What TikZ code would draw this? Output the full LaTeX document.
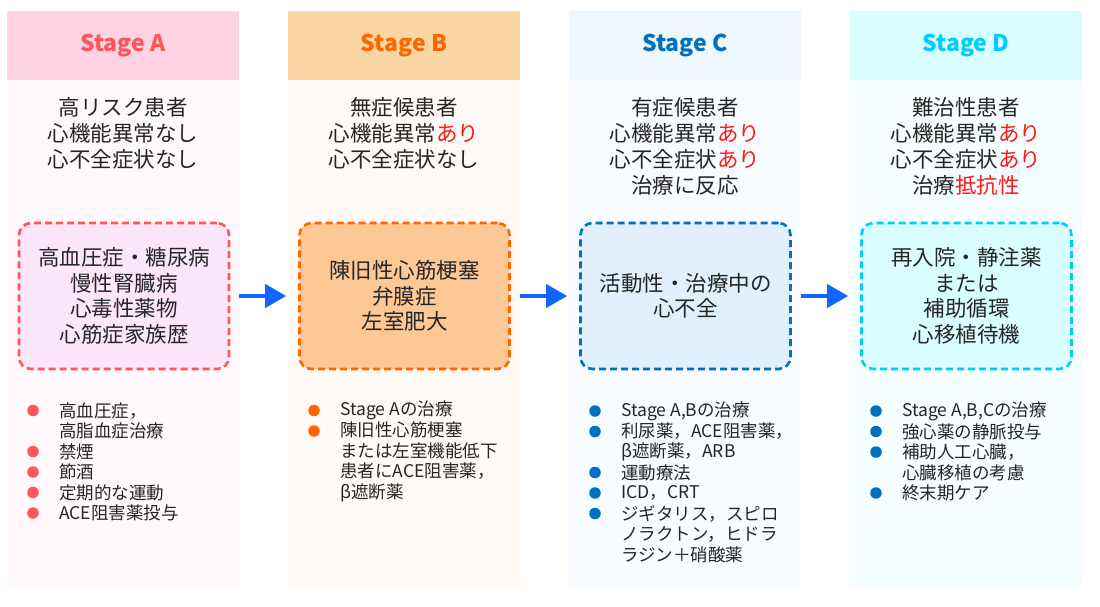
\documentclass[tikz,border=0pt]{standalone}
\usepackage{fontspec}
\setmainfont{Noto Sans CJK JP}
\usetikzlibrary{arrows.meta}
\definecolor{txt}{HTML}{262626}
\definecolor{redt}{HTML}{FF1A1A}
\definecolor{headA}{HTML}{FFD3E4}
\definecolor{bodyA}{HTML}{FFF8FD}
\definecolor{boxA}{HTML}{FDE6FA}
\definecolor{colA}{HTML}{FF5757}
\definecolor{headB}{HTML}{F9D6A3}
\definecolor{bodyB}{HTML}{FFFAF5}
\definecolor{boxB}{HTML}{FDC896}
\definecolor{colB}{HTML}{FF6600}
\definecolor{headC}{HTML}{EFF7FE}
\definecolor{bodyC}{HTML}{F8FBFF}
\definecolor{boxC}{HTML}{E1F0FC}
\definecolor{colC}{HTML}{0070C0}
\definecolor{headD}{HTML}{D9FEFF}
\definecolor{bodyD}{HTML}{F5FFFF}
\definecolor{boxD}{HTML}{DAFDFF}
\definecolor{colD}{HTML}{00CCFF}
\definecolor{arrowblue}{HTML}{1166FF}
\newcommand\ls{20.5}
\newcommand\bul[6]{%
  \node[dotmark,fill=#3] (#1d) at ({#2+26},#4) {};
  \node[btext] (#1) at ({#2+52},{#4+(#5-1)*\ls/2}) {#6};}
\newcommand\red[1]{\textcolor{redt}{#1}}
\begin{document}
\begin{tikzpicture}[x=1pt,y=-1pt,
  head/.style={minimum width=232pt,minimum height=69pt,inner sep=0,draw=none,
    font=\fontsize{23}{27}\selectfont\bfseries},
  body/.style={minimum width=232pt,minimum height=507pt,inner sep=0,draw=none},
  btop/.style={align=center,inner sep=0,text=txt,font=\fontsize{21.5}{26}\selectfont},
  dbox/.style={minimum width=210pt,minimum height=146pt,rounded corners=12pt,
    line width=2.6pt,dash pattern=on 7pt off 4pt,align=center,text=txt,
    font=\fontsize{21.5}{25.5}\selectfont},
  arr/.style={arrowblue,line width=4pt,-{Triangle[length=21pt,width=23pt]},
    shorten <=9pt,shorten >=12pt},
  dotmark/.style={circle,minimum size=11.5pt,inner sep=0,draw=none},
  btext/.style={anchor=west,align=left,inner sep=0,text=txt,
    font=\fontsize{17.5}{20.5}\selectfont}]
\useasboundingbox (0,0) rectangle (1100,606);
\fill[white] (0,0) rectangle (1100,606);
% column backgrounds
\node[body,fill=bodyA] (cA) at (123,333.5) {};
\node[body,fill=bodyB] (cB) at (404,333.5) {};
\node[body,fill=bodyC] (cC) at (685,333.5) {};
\node[body,fill=bodyD] (cD) at (966,333.5) {};
% headers
\node[head,fill=headA,text=colA] (hA) at (123,45.5) {Stage A};
\node[head,fill=headB,text=colB] (hB) at (404,45.5) {Stage B};
\node[head,fill=headC,text=colC] (hC) at (685,45.5) {Stage C};
\node[head,fill=headD,text=colD] (hD) at (966,45.5) {Stage D};
% top descriptions
\node[btop] (tA) at (123,133) {高リスク患者\\心機能異常なし\\心不全症状なし};
\node[btop] (tB) at (404,133) {無症候患者\\心機能異常\red{あり}\\心不全症状なし};
\node[btop] (tC) at (685,146) {有症候患者\\心機能異常\red{あり}\\心不全症状\red{あり}\\治療に反応};
\node[btop] (tD) at (966,146) {難治性患者\\心機能異常\red{あり}\\心不全症状\red{あり}\\治療\red{抵抗性}};
% dashed boxes
\node[dbox,draw=colA,fill=boxA] (bA) at (124,296) {高血圧症・糖尿病\\慢性腎臓病\\心毒性薬物\\心筋症家族歴};
\node[dbox,draw=colB,fill=boxB] (bB) at (404.5,296) {陳旧性心筋梗塞\\弁膜症\\左室肥大};
\node[dbox,draw=colC,fill=boxC] (bC) at (685.5,296) {活動性・治療中の\\心不全};
\node[dbox,draw=colD,fill=boxD] (bD) at (966.5,296) {再入院・静注薬\\または\\補助循環\\心移植待機};
% arrows
\draw[arr] (bA.east) -- (bB.west);
\draw[arr] (bC.west -| bB.east) -- (bC.west);
\draw[arr] (bD.west -| bC.east) -- (bD.west);
% bullets A
\bul{a1}{7}{colA}{410.5}{2}{高血圧症，\\高脂血症治療}
\bul{a2}{7}{colA}{451.5}{1}{禁煙}
\bul{a3}{7}{colA}{472}{1}{節酒}
\bul{a4}{7}{colA}{492.5}{1}{定期的な運動}
\bul{a5}{7}{colA}{513}{1}{ACE阻害薬投与}
% bullets B
\bul{b1}{288}{colB}{410.5}{1}{Stage Aの治療}
\bul{b2}{288}{colB}{431}{4}{陳旧性心筋梗塞\\または左室機能低下\\患者にACE阻害薬，\\β遮断薬}
% bullets C
\bul{c1}{569}{colC}{411}{1}{Stage A,Bの治療}
\bul{c2}{569}{colC}{431.5}{2}{利尿薬，ACE阻害薬，\\β遮断薬，ARB}
\bul{c3}{569}{colC}{472.5}{1}{運動療法}
\bul{c4}{569}{colC}{493}{1}{ICD，CRT}
\bul{c5}{569}{colC}{513.5}{3}{ジギタリス，スピロ\\ノラクトン，ヒドラ\\ラジン＋硝酸薬}
% bullets D
\bul{d1}{850}{colC}{411}{1}{Stage A,B,Cの治療}
\bul{d2}{850}{colC}{431.5}{1}{強心薬の静脈投与}
\bul{d3}{850}{colC}{452}{2}{補助人工心臓，\\心臓移植の考慮}
\bul{d4}{850}{colC}{493}{1}{終末期ケア}
\end{tikzpicture}
\end{document}
